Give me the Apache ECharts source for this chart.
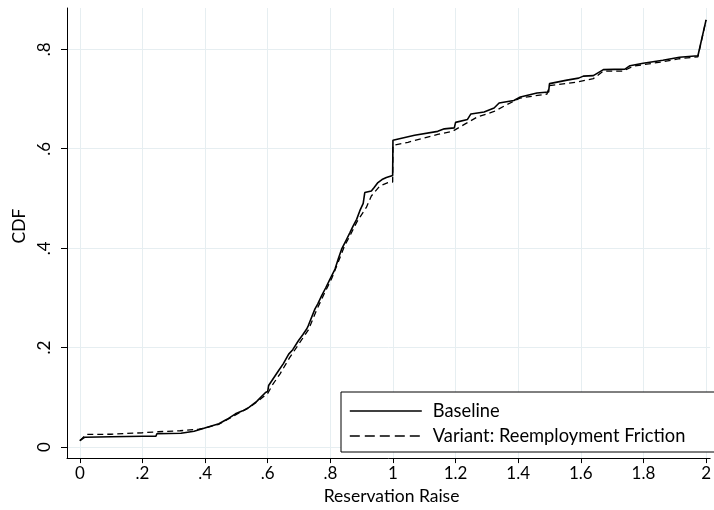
<!DOCTYPE html>
<html>
<head>
<meta charset="utf-8">
<script src="https://cdn.jsdelivr.net/npm/echarts@6/dist/echarts.min.js"></script>
<style>
html,body{margin:0;padding:0;background:#fff;}
#chart{width:714px;height:510px;}
</style>
</head>
<body>
<div id="chart"></div>
<script>
// ---- data ----
const seriesNames = ['Baseline', 'Variant: Reemployment Friction'];
const xTicks = [0, 0.2, 0.4, 0.6, 0.8, 1, 1.2, 1.4, 1.6, 1.8, 2];
const yTicks = [0, 0.2, 0.4, 0.6, 0.8];

const baselineX = [0.000,0.016,0.100,0.200,0.243,0.246,0.323,0.365,0.407,0.444,0.470,0.497,0.520,0.540,0.565,0.593,0.600,0.603,0.606,0.635,0.650,0.667,0.680,0.698,0.712,0.725,0.730,0.751,0.760,0.772,0.785,0.799,0.815,0.826,0.836,0.852,0.863,0.873,0.884,0.894,0.905,0.910,0.931,0.940,0.952,0.965,0.979,0.999,1.000,1.069,1.143,1.164,1.196,1.200,1.238,1.249,1.291,1.323,1.339,1.386,1.407,1.460,1.497,1.500,1.556,1.593,1.608,1.640,1.672,1.741,1.757,1.799,1.862,1.915,1.974,2.000];
const baselineY = [0.013,0.020,0.021,0.022,0.022,0.027,0.028,0.032,0.040,0.047,0.056,0.067,0.073,0.080,0.092,0.110,0.112,0.124,0.121,0.154,0.168,0.187,0.196,0.214,0.226,0.238,0.245,0.278,0.288,0.304,0.320,0.338,0.358,0.380,0.398,0.418,0.432,0.445,0.458,0.475,0.490,0.512,0.515,0.522,0.532,0.538,0.542,0.546,0.617,0.627,0.635,0.640,0.642,0.653,0.659,0.670,0.674,0.682,0.692,0.697,0.704,0.712,0.714,0.731,0.738,0.742,0.746,0.747,0.759,0.760,0.767,0.772,0.778,0.784,0.787,0.859];

const variantX = [0.000,0.020,0.100,0.200,0.250,0.320,0.380,0.407,0.444,0.470,0.500,0.540,0.570,0.600,0.615,0.640,0.670,0.700,0.730,0.755,0.780,0.805,0.825,0.845,0.865,0.884,0.894,0.915,0.931,0.958,0.984,0.999,1.000,1.048,1.143,1.190,1.228,1.270,1.323,1.365,1.407,1.492,1.500,1.587,1.640,1.672,1.735,1.767,1.862,1.915,1.974,2.000];
const variantY = [0.013,0.0255,0.026,0.029,0.031,0.033,0.036,0.040,0.046,0.055,0.066,0.079,0.093,0.108,0.125,0.148,0.180,0.208,0.236,0.274,0.308,0.340,0.372,0.404,0.428,0.452,0.462,0.482,0.505,0.525,0.532,0.533,0.607,0.613,0.629,0.635,0.649,0.664,0.675,0.689,0.702,0.710,0.727,0.734,0.741,0.756,0.756,0.766,0.775,0.781,0.785,0.859];

// ---- build ----
function zip(xs, ys){ return xs.map((x,i)=>[x, ys[i]]); }
function fmt(v){
  const r = Math.round(v*10)/10;
  if (r === 0) return '0';
  let s = String(r);
  if (s.startsWith('0.')) s = s.slice(1);
  return s;
}
const FONT = 'Lato';
const gridColor = '#e6eef1';

const chart = echarts.init(document.getElementById('chart'), null, {renderer:'canvas'});
chart.setOption({
  animation: false,
  backgroundColor: '#fff',
  grid: {left: 67, right: 0, top: 8, bottom: 51, containLabel: false},
  xAxis: {
    type: 'value', min: -0.041, max: 2.013,
    name: 'Reservation Raise', nameLocation: 'middle', nameGap: 27,
    nameTextStyle: {fontFamily: FONT, fontSize: 17.5, color: '#000', padding:[0,0,0,6]},
    axisLine: {show: true, onZero: false, lineStyle: {color: '#000', width: 1}},
    axisTick: {show: true, length: 5, lineStyle: {color: '#000'}, customValues: xTicks},
    axisLabel: {customValues: xTicks, formatter: fmt, fontFamily: FONT, fontSize: 17, color: '#000', margin: 7},
    splitLine: {show: true, lineStyle: {color: gridColor, width: 1}}
  },
  yAxis: {
    type: 'value', min: -0.022, max: 0.883,
    name: 'CDF', nameLocation: 'middle', nameGap: 32, nameRotate: 90,
    nameTextStyle: {fontFamily: FONT, fontSize: 17.5, color: '#000', padding:[0,0,0,14]},
    axisLine: {show: true, onZero: false, lineStyle: {color: '#000', width: 1}},
    axisTick: {show: true, length: 6, lineStyle: {color: '#000'}, customValues: yTicks},
    axisLabel: {customValues: yTicks, formatter: fmt, rotate: 90, fontFamily: FONT, fontSize: 17, color: '#000', margin: 14},
    splitLine: {show: true, lineStyle: {color: gridColor, width: 1}}
  },
  legend: {
    orient: 'vertical', left: 341, top: 392,
    backgroundColor: '#fff', borderColor: '#000', borderWidth: 1,
    padding: [10, 30, 7, 8], itemGap: 7, itemWidth: 72, itemHeight: 18,
    itemStyle: {opacity: 0},
    textStyle: {fontFamily: FONT, fontSize: 18.3, color: '#000', padding: [0, 0, 0, 6]},
    data: [
      {name: seriesNames[0], lineStyle: {type: 'solid', width: 1.6}},
      {name: seriesNames[1], lineStyle: {type: [10, 5], width: 1.3}}
    ]
  },
  series: [
    {name: seriesNames[0], type: 'line', data: zip(baselineX, baselineY), symbol: 'none',
     lineStyle: {color: '#000', width: 1.6, type: 'solid'}, itemStyle: {color: '#000'}, z: 3},
    {name: seriesNames[1], type: 'line', data: zip(variantX, variantY), symbol: 'none',
     lineStyle: {color: '#000', width: 1.3, type: [6, 4]}, itemStyle: {color: '#000'}, z: 2}
  ]
});
</script>
</body>
</html>
